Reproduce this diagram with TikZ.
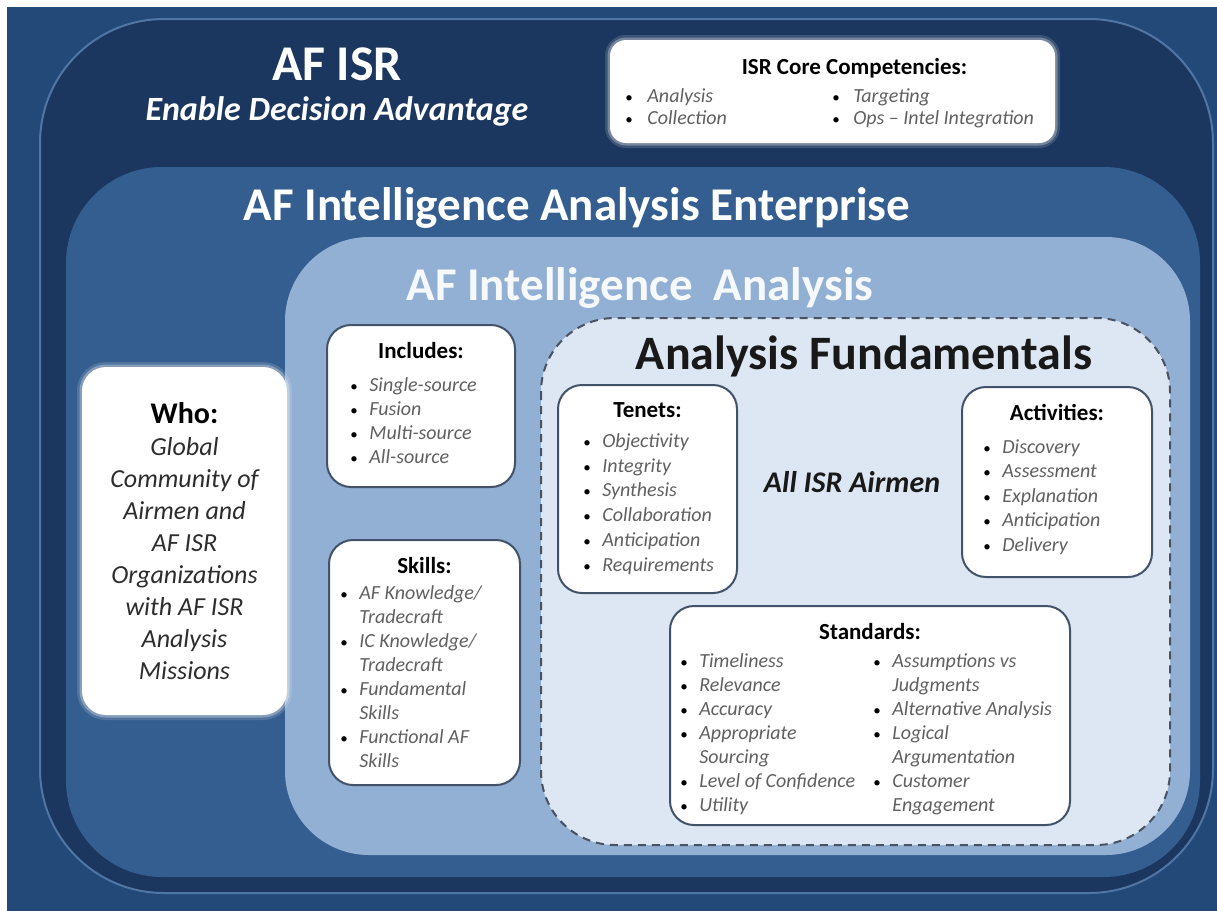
\documentclass[tikz,border=0pt]{standalone}
\usepackage{fontspec}
\setmainfont{Carlito}
\usepackage{tikz}
\usetikzlibrary{positioning}
\usepackage{xcolor}
\definecolor{cFrame}{RGB}{35,73,121}
\definecolor{cIsr}{RGB}{27,55,95}
\definecolor{cIsrLine}{RGB}{80,118,165}
\definecolor{cEnterprise}{RGB}{52,94,143}
\definecolor{cAnalysis}{RGB}{146,175,212}
\definecolor{cFund}{RGB}{221,231,243}
\definecolor{cDash}{RGB}{72,82,98}
\definecolor{cCard}{RGB}{66,82,105}
\definecolor{cItem}{RGB}{96,96,96}
\definecolor{cWho}{RGB}{45,45,45}
\newcommand{\bl}{\makebox[9.5pt][l]{\textcolor{black}{\upshape\scalebox{0.75}{\textbullet}}}}
\newcommand{\bgap}{\makebox[9.5pt]{}}

\begin{document}
\begin{tikzpicture}[x=0.5pt, y=-0.5pt,
  card/.style={draw=cCard, line width=1pt, fill=white, rounded corners=12pt, inner sep=0pt},
  softcard/.style={fill=white, rounded corners=12pt, inner sep=0pt,
    preaction={draw=white, line width=5pt, opacity=0.15},
    preaction={draw=white, line width=2.5pt, opacity=0.3}},
  cardhead/.style={font=\fontsize{11.5}{13}\selectfont\bfseries, inner sep=1pt},
  itemlist/.style={font=\fontsize{10}{12}\selectfont\itshape, text=cItem, align=left,
    anchor=north west, inner sep=0pt},
  banner/.style={font=\fontsize{23.5}{26}\selectfont\bfseries, anchor=base, inner sep=0pt}]
  \useasboundingbox (0,0) rectangle (1217,911);
  \fill[white] (0,0) rectangle (1217,911);
  \fill[cFrame] (7,7) rectangle (1217,911);
  \draw[cIsrLine, fill=cIsr, line width=1pt, rounded corners=62pt] (40,19) rectangle (1213,893);
  \fill[cEnterprise, rounded corners=48pt] (66,167) rectangle (1200,877);
  \fill[cAnalysis, rounded corners=42pt] (285,237) rectangle (1190,855);
  \draw[cDash, fill=cFund, line width=1pt, dash pattern=on 4pt off 3pt, rounded corners=37pt]
    (541,318) rectangle (1170,845);

  \node[banner, font=\fontsize{25}{28}\selectfont\bfseries, text=white] (isr) at (337,80) {AF ISR};
  \node[banner, font=\fontsize{17}{20}\selectfont\bfseries\itshape, text=white] (advantage) at (337,120)
    {Enable Decision Advantage};
  \node[banner, text=white] (enterprise) at (577,220) {AF Intelligence Analysis Enterprise};
  \node[banner, text=white!92!cAnalysis] (analysis) at (640,300) {AF Intelligence\ \ Analysis};
  \node[banner, font=\fontsize{24}{27}\selectfont\bfseries, text=black!90] (fund) at (864,369)
    {Analysis Fundamentals};
  \node[banner, font=\fontsize{15}{18}\selectfont\bfseries\itshape, text=black!90] (airmen) at (852,492)
    {All ISR Airmen};

  \node[softcard, rounded corners=8pt, minimum width=222.5pt, minimum height=51.5pt] (core) at (832.5,91.5) {};
  \node[cardhead, below=8pt of core.north, xshift=11pt] (corehead) {ISR Core Competencies:};
  \node[itemlist, font=\fontsize{10}{11.25}\selectfont\itshape] (coreA) at (625,88)
    {\bl\hspace{1.5pt}Analysis\\\bl\hspace{1.5pt}Collection};
  \node[itemlist, font=\fontsize{10}{11.25}\selectfont\itshape] (coreB) at (832,88)
    {\bl\hspace{1pt}Targeting\\\bl\hspace{1pt}Ops -- Intel Integration};

  \node[softcard, minimum width=102.5pt, minimum height=174pt, align=center, text=cWho,
    font=\fontsize{13}{16}\selectfont\itshape] (who) at (184.5,541)
    {{\fontsize{15}{16}\selectfont\bfseries\upshape\color{black}Who:}\\Global\\Community of\\Airmen and\\
     AF ISR\\Organizations\\with AF ISR\\Analysis\\Missions};

  \node[card, minimum width=94pt, minimum height=81pt] (includes) at (421,406) {};
  \node[cardhead, below=8pt of includes.north] (includeshead) {Includes:};
  \node[itemlist] (includeslist) at (350,377)
    {\bl Single-source\\\bl Fusion\\\bl Multi-source\\\bl All-source};

  \node[card, minimum width=95.5pt, minimum height=122.5pt] (skills) at (424.5,662.5) {};
  \node[cardhead, below=8pt of skills.north] (skillshead) {Skills:};
  \node[itemlist] (skillslist) at (340,585)
    {\bl AF Knowledge/\\\bgap Tradecraft\\\bl IC Knowledge/\\\bgap Tradecraft\\
     \bl Fundamental\\\bgap Skills\\\bl Functional AF\\\bgap Skills};

  \node[card, minimum width=89.5pt, minimum height=104pt] (tenets) at (647.5,489) {};
  \node[cardhead, below=8pt of tenets.north] (tenetshead) {Tenets:};
  \node[itemlist, font=\fontsize{10}{12.4}\selectfont\itshape] (tenetslist) at (583,433)
    {\bl Objectivity\\\bl Integrity\\\bl Synthesis\\\bl Collaboration\\\bl Anticipation\\\bl Requirements};

  \node[card, minimum width=95pt, minimum height=95pt] (activities) at (1057,482) {};
  \node[cardhead, below=8pt of activities.north] (activitieshead) {Activities:};
  \node[itemlist, font=\fontsize{10}{12.25}\selectfont\itshape] (activitieslist) at (983,439)
    {\bl Discovery\\\bl Assessment\\\bl Explanation\\\bl Anticipation\\\bl Delivery};

  \node[card, minimum width=200pt, minimum height=109.5pt] (standards) at (870,715.5) {};
  \node[cardhead, below=8pt of standards.north] (standardshead) {Standards:};
  \node[itemlist] (standardsA) at (680,653)
    {\bl Timeliness\\\bl Relevance\\\bl Accuracy\\\bl Appropriate\\\bgap Sourcing\\
     \bl Level of Confidence\\\bl Utility};
  \node[itemlist] (standardsB) at (873,653)
    {\bl Assumptions vs\\\bgap Judgments\\\bl Alternative Analysis\\\bl Logical\\\bgap Argumentation\\
     \bl Customer\\\bgap Engagement};
\end{tikzpicture}
\end{document}
